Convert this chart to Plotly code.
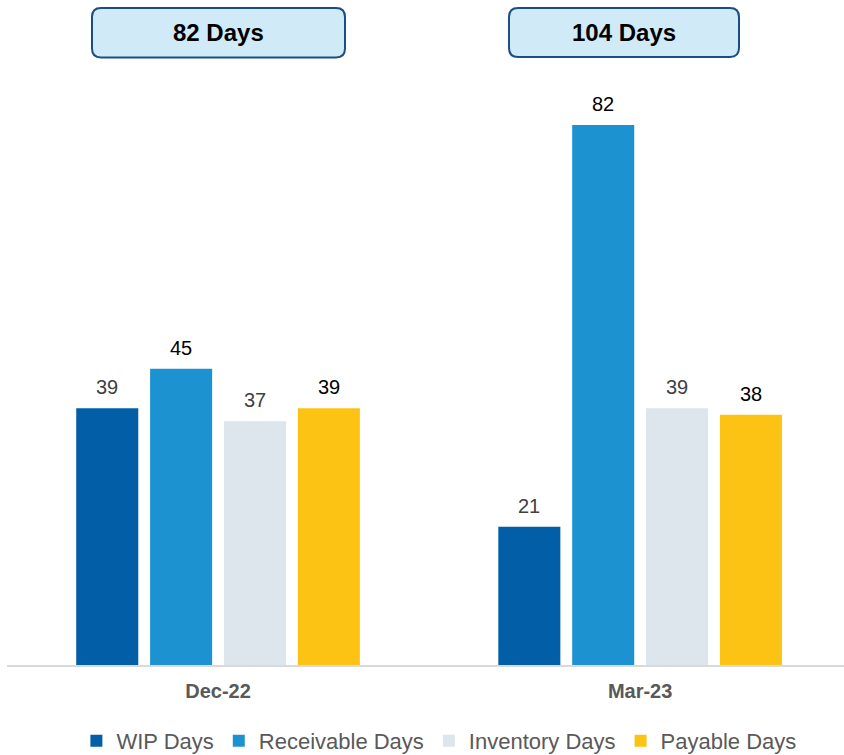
import plotly.graph_objects as go

categories = ["Dec-22", "Mar-23"]
series_names = ["WIP Days", "Receivable Days", "Inventory Days", "Payable Days"]
wip_days = [39, 21]
receivable_days = [45, 82]
inventory_days = [37, 39]
payable_days = [39, 38]
box_labels = ["82 Days", "104 Days"]

series_values = [wip_days, receivable_days, inventory_days, payable_days]
colors = ["#035ea8", "#1c93d0", "#dde5ed", "#fcc314"]
text_colors = ["#404040", "#000000", "#404040", "#000000"]

FONT = "Liberation Sans, Arial"

W, H = 844, 755
ml, mr, mt, mb = 7, 0, 70, 90
pw = W - ml - mr
ph = H - mt - mb

fig = go.Figure()
for name, vals, col in zip(series_names, series_values, colors):
    fig.add_trace(go.Bar(
        name=name, x=categories, y=vals, marker=dict(color=col, line=dict(width=0)),
    ))

annotations = []
bar_step = 74  # pixel spacing between bars within a group
for i, (vals, tcol) in enumerate(zip(series_values, text_colors)):
    for cat, v in zip(categories, vals):
        annotations.append(dict(
            x=cat, y=v, xref="x", yref="y", text=str(v), showarrow=False,
            xshift=(i - 1.5) * bar_step, yshift=21, yanchor="middle", xanchor="center",
            font=dict(family=FONT, size=20, color=tcol),
        ))


def px2paper(x, y):
    return (x - ml) / pw, (H - mb - y) / ph


def rounded_rect(x0, y0, x1, y1, r=9):
    def P(x, y):
        a, b = px2paper(x, y)
        return f"{a:.5f},{b:.5f}"
    return (f"M {P(x0 + r, y0)} L {P(x1 - r, y0)} Q {P(x1, y0)} {P(x1, y0 + r)} "
            f"L {P(x1, y1 - r)} Q {P(x1, y1)} {P(x1 - r, y1)} "
            f"L {P(x0 + r, y1)} Q {P(x0, y1)} {P(x0, y1 - r)} "
            f"L {P(x0, y0 + r)} Q {P(x0, y0)} {P(x0 + r, y0)} Z")


boxes = [(92, 8, 345, 57.5), (509, 8, 739, 57)]
shapes = []
for (x0, y0, x1, y1), lab in zip(boxes, box_labels):
    shapes.append(dict(type="path", xref="paper", yref="paper", path=rounded_rect(x0, y0, x1, y1),
                       fillcolor="#d1eaf8", line=dict(color="#1a4f85", width=2), layer="above"))
    cx, cy = px2paper((x0 + x1) / 2, (y0 + y1) / 2)
    annotations.append(dict(x=cx, y=cy, xref="paper", yref="paper", text=f"<b>{lab}</b>",
                            showarrow=False, font=dict(family=FONT, size=24, color="#000000"),
                            xanchor="center", yanchor="middle"))

fig.update_layout(
    width=W, height=H,
    margin=dict(l=ml, r=mr, t=mt, b=mb, pad=0, autoexpand=False),
    paper_bgcolor="white", plot_bgcolor="white",
    barmode="group", bargap=0.3, bargroupgap=0.16,
    shapes=shapes, annotations=annotations,
    showlegend=True,
    legend=dict(orientation="h", x=0.516, xanchor="center", y=-0.1277, yanchor="middle",
                font=dict(family=FONT, size=22, color="#595959"),
                itemwidth=30, traceorder="normal"),
    font=dict(family=FONT),
)
fig.update_xaxes(range=[-0.5, 1.483], showline=True, linecolor="#d9d9d9", linewidth=2,
                 ticks="", showgrid=False, ticklabelstandoff=7,
                 tickfont=dict(family=FONT, size=20, color="#595959"),
                 tickvals=categories, ticktext=[f"<b>{c}</b>" for c in categories])
fig.update_yaxes(range=[0, 90.36], visible=False, showgrid=False, zeroline=False)

fig.write_html("out.html", config={"displayModeBar": False},
               post_script="document.body.style.margin='0';document.body.style.overflow='hidden';")
